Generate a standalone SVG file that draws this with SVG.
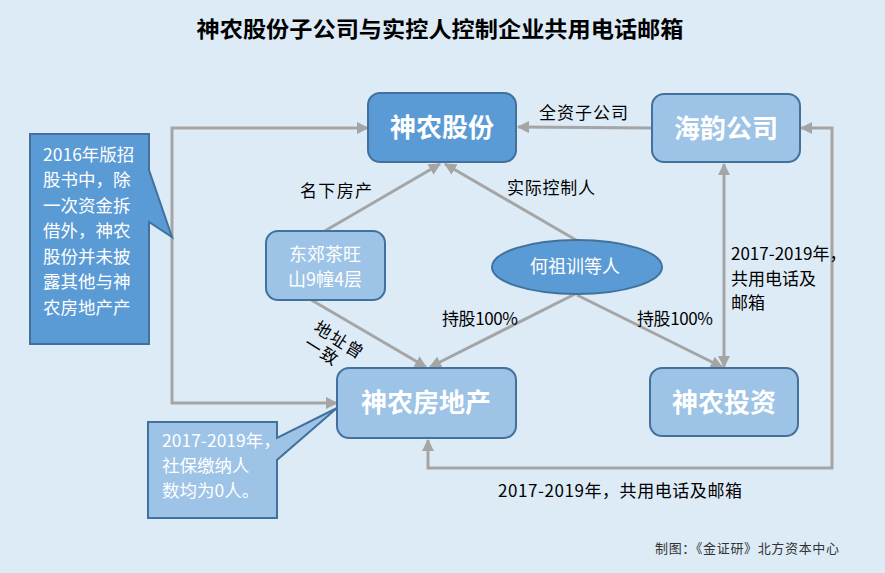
<svg xmlns="http://www.w3.org/2000/svg" width="885" height="573" viewBox="0 0 885 573">
<style>
text{font-family:"Noto Sans CJK SC","Liberation Sans",sans-serif;}
.title{font-size:22px;font-weight:bold;fill:#000;}
.dark{fill:#5B9BD5;stroke:#41719C;stroke-width:2;}
.light{fill:#9DC3E6;stroke:#41719C;stroke-width:2;}
.big{font-size:26px;font-weight:bold;fill:#fff;text-anchor:middle;}
.mid{font-size:18px;fill:#fff;text-anchor:middle;}
.call{font-size:17.5px;fill:#fff;}
.lbl{font-size:17px;fill:#000;}
.conn{fill:none;stroke:#A5A5A5;stroke-width:3;}
.foot{font-size:13px;fill:#333;}
</style>
<defs>
<marker id="arr" markerUnits="userSpaceOnUse" markerWidth="12" markerHeight="12" viewBox="0 0 12 12" refX="11" refY="6" orient="auto-start-reverse">
<path d="M0,0 L12,6 L0,12 z" fill="#A5A5A5"/>
</marker>
</defs>
<rect x="0" y="0" width="885" height="573" fill="#DDEBF7"/>
<text class="title" x="440" y="37" text-anchor="middle" textLength="487" lengthAdjust="spacingAndGlyphs">神农股份子公司与实控人控制企业共用电话邮箱</text>

<g id="connectors">
<path class="conn" d="M652,128 L518,127" marker-end="url(#arr)"/>
<path class="conn" d="M368,128 H172 V403 H337" marker-start="url(#arr)" marker-end="url(#arr)"/>
<path class="conn" d="M323,232 L440,164" marker-end="url(#arr)"/>
<path class="conn" d="M576,240 L445,164" marker-end="url(#arr)"/>
<path class="conn" d="M308,298 L426,367" marker-end="url(#arr)"/>
<path class="conn" d="M577,293 L430,367" marker-end="url(#arr)"/>
<path class="conn" d="M577,295 L722,367" marker-end="url(#arr)"/>
<path class="conn" d="M724,164 V367" marker-start="url(#arr)" marker-end="url(#arr)"/>
<path class="conn" d="M428,440 V468 H832 V128 H801" marker-start="url(#arr)" marker-end="url(#arr)"/>
<text class="lbl" x="539" y="119" textLength="89">全资子公司</text>
<text class="lbl" x="300" y="197" textLength="72">名下房产</text>
<text class="lbl" x="507" y="194" textLength="88">实际控制人</text>
<text class="lbl" x="442" y="325" textLength="76">持股100%</text>
<text class="lbl" x="637" y="325" textLength="76">持股100%</text>
<g transform="translate(323,330) rotate(32)">
<text class="lbl" x="-8.5" y="6" textLength="54">地址曾</text>
<text class="lbl" x="-8.5" y="25" textLength="36">一致</text>
</g>
<text class="lbl" x="731" y="260">2017-2019年，</text>
<text class="lbl" x="731" y="285">共用电话及</text>
<text class="lbl" x="731" y="309">邮箱</text>
<text class="lbl" x="498" y="497" textLength="244">2017-2019年，共用电话及邮箱</text>
</g>

<g id="n_shennong">
<rect class="dark" x="368" y="93" width="148" height="69" rx="12"/>
<text class="big" x="442" y="137">神农股份</text>
</g>
<g id="n_haiyun">
<rect class="light" x="652" y="94" width="148" height="68" rx="12"/>
<text class="big" x="726" y="138">海韵公司</text>
</g>
<g id="n_dongjiao">
<rect class="light" x="266" y="231" width="119" height="69" rx="12"/>
<text class="mid" x="325" y="261">东郊茶旺</text>
<text class="mid" x="325" y="286">山9幢4层</text>
</g>
<g id="n_he">
<ellipse class="dark" cx="577" cy="267" rx="85" ry="27"/>
<text class="mid" x="575" y="273">何祖训等人</text>
</g>
<g id="n_fangdichan">
<rect class="light" x="337" y="368" width="179" height="70" rx="12"/>
<text class="big" x="426" y="412">神农房地产</text>
</g>
<g id="n_touzi">
<rect class="light" x="650" y="368" width="148" height="68" rx="12"/>
<text class="big" x="724" y="412">神农投资</text>
</g>
<g id="callout1">
<path class="dark" d="M30,134 H149 V170 L172,237 L149,222 V344 H30 Z"/>
<text class="call" x="43" y="161">2016年版招</text>
<text class="call" x="43" y="186">股书中，除</text>
<text class="call" x="43" y="212">一次资金拆</text>
<text class="call" x="43" y="237">借外，神农</text>
<text class="call" x="43" y="263">股份并未披</text>
<text class="call" x="43" y="288">露其他与神</text>
<text class="call" x="43" y="314">农房地产产</text>
</g>
<g id="callout2">
<path class="light" d="M148,422 H277 V438 L337,408 L277,460 V518 H148 Z"/>
<text class="call" x="162" y="447">2017-2019年，</text>
<text class="call" x="162" y="472">社保缴纳人</text>
<text class="call" x="162" y="497">数均为0人。</text>
</g>
<text class="foot" x="655" y="553" textLength="184">制图：《金证研》北方资本中心</text>
</svg>
